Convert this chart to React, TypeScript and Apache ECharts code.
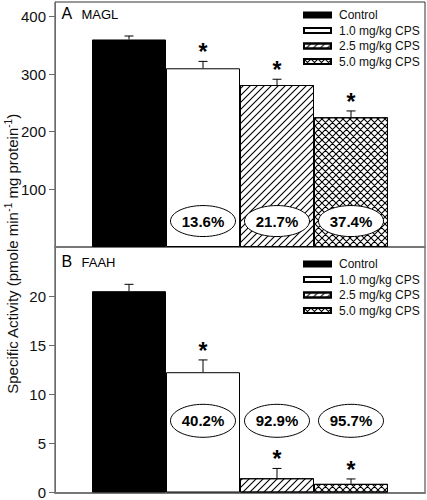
import React, { useEffect, useRef } from 'react';
import * as echarts from 'echarts';

// ---- data ----
const slots = ['', 'Control', '1.0 mg/kg CPS', '2.5 mg/kg CPS', '5.0 mg/kg CPS', ''];
const groups = ['Control', '1.0 mg/kg CPS', '2.5 mg/kg CPS', '5.0 mg/kg CPS'];
const maglValues = [360, 310, 281, 225];
const maglErrors = [6, 12, 10, 11];
const faahValues = [20.5, 12.25, 1.45, 0.88];
const faahErrors = [0.7, 1.25, 1.0, 0.5];
const significant = [false, true, true, true];
const maglInhibition = ['', '13.6%', '21.7%', '37.4%'];
const faahInhibition = ['', '40.2%', '92.9%', '95.7%'];
const maglInhibitionLevel = 45;
const faahInhibitionLevel = 7.3;
const maglTicks = [100, 200, 300, 400];
const faahTicks = [0, 5, 10, 15, 20];
const maglMax = 425;
const faahMax = 25;

const FONT = 'Liberation Sans, Arial, Helvetica, sans-serif';

const hatchPath =
  'path://M0,8.9L8.9,0L10,0L10,1.1L1.1,10L0,10ZM0,0L1.1,0L0,1.1ZM10,8.9L10,10L8.9,10Z';
const crossPath =
  hatchPath +
  'M0,0L1.1,0L10,8.9L10,10L8.9,10L0,1.1ZM8.9,0L10,0L10,1.1ZM0,8.9L1.1,10L0,10Z';

const makeDecal = (symbol: string) => ({
  symbol,
  symbolSize: 1,
  symbolKeepAspect: false,
  dashArrayX: [7, 0],
  dashArrayY: [7, 0],
  color: '#000',
  rotation: 0,
});

const groupStyles: any[] = [
  { color: '#000', borderColor: '#000', borderWidth: 1 },
  { color: '#fff', borderColor: '#000', borderWidth: 1 },
  { color: '#fff', borderColor: '#000', borderWidth: 1, decal: makeDecal(hatchPath) },
  { color: '#fff', borderColor: '#000', borderWidth: 1, decal: makeDecal(crossPath) },
];

function barSeries(gridIdx: number, values: number[]) {
  return groups.map((name, g) => ({
    type: 'bar',
    name,
    xAxisIndex: gridIdx,
    yAxisIndex: gridIdx,
    barWidth: '100%',
    barGap: '-100%',
    itemStyle: groupStyles[g],
    emphasis: { disabled: true },
    data: slots.map((_, i) => (i === g + 1 ? values[g] : '-')),
    z: 2,
  }));
}

function errorSeries(gridIdx: number, values: number[], errors: number[]) {
  return {
    type: 'custom',
    xAxisIndex: gridIdx,
    yAxisIndex: gridIdx,
    silent: true,
    z: 5,
    data: values.map((v, i) => [i + 1, v, errors[i], significant[i] ? 1 : 0]),
    renderItem: (params: any, api: any) => {
      const x = api.value(0);
      const v = api.value(1);
      const e = api.value(2);
      const base = api.coord([x, v]);
      const top = api.coord([x, v + e]);
      const children: any[] = [
        {
          type: 'line',
          shape: { x1: base[0], y1: base[1], x2: top[0], y2: top[1] },
          style: { stroke: '#000', lineWidth: 1 },
        },
        {
          type: 'line',
          shape: { x1: top[0] - 4.5, y1: top[1], x2: top[0] + 4.5, y2: top[1] },
          style: { stroke: '#000', lineWidth: 1 },
        },
      ];
      if (api.value(3)) {
        children.push({
          type: 'text',
          x: top[0],
          y: top[1] - 9,
          style: {
            text: '*',
            fontSize: 23,
            fontWeight: 'bold',
            fontFamily: FONT,
            fill: '#000',
            align: 'center',
            verticalAlign: 'middle',
          },
        });
      }
      return { type: 'group', children };
    },
  };
}

function inhibitionSeries(gridIdx: number, labels: string[], level: number, ry: number) {
  const items = labels
    .map((t, i) => ({ t, i }))
    .filter((d) => d.t !== '');
  return {
    type: 'custom',
    xAxisIndex: gridIdx,
    yAxisIndex: gridIdx,
    silent: true,
    z: 6,
    data: items.map((d) => [d.i + 1, level]),
    renderItem: (params: any, api: any) => {
      const c = api.coord([api.value(0), api.value(1)]);
      const label = items[params.dataIndex].t;
      return {
        type: 'group',
        children: [
          {
            type: 'ellipse',
            shape: { cx: c[0], cy: c[1], rx: 32.5, ry },
            style: { fill: '#fff', stroke: '#000', lineWidth: 1 },
          },
          {
            type: 'text',
            x: c[0],
            y: c[1],
            style: {
              text: label,
              fontSize: 15,
              fontWeight: 'bold',
              fontFamily: FONT,
              fill: '#000',
              align: 'center',
              verticalAlign: 'middle',
            },
          },
        ],
      };
    },
  };
}

function makeYAxis(gridIdx: number, max: number, ticks: number[]) {
  return {
    type: 'value',
    gridIndex: gridIdx,
    min: 0,
    max,
    axisLine: { show: true, lineStyle: { color: '#6a6a6a', width: 1 } },
    axisTick: {
      show: true,
      inside: false,
      length: 6,
      customValues: ticks,
      lineStyle: { color: '#6a6a6a' },
    },
    axisLabel: {
      customValues: ticks,
      fontSize: 15,
      fontFamily: FONT,
      color: '#111',
      margin: 9,
    },
    splitLine: { show: false },
  };
}

function makeXAxis(gridIdx: number) {
  return {
    type: 'category',
    gridIndex: gridIdx,
    data: slots,
    boundaryGap: false,
    axisLine: { show: true, onZero: false, lineStyle: { color: '#777', width: 2 } },
    axisTick: { show: false },
    axisLabel: { show: false },
    splitLine: { show: false },
  };
}

function makeLegend(top: number) {
  return {
    data: groups,
    orient: 'vertical',
    left: 303,
    top,
    padding: 0,
    itemGap: 1.5,
    itemWidth: 27,
    itemHeight: 5,
    icon: 'rect',
    selectedMode: false,
    textStyle: {
      fontSize: 12,
      fontFamily: FONT,
      color: '#111',
      lineHeight: 14,
      padding: [0, 0, 0, 3],
    },
  };
}

export default function App() {
  const ref = useRef<HTMLDivElement>(null);

  useEffect(() => {
    if (!ref.current) return;
    const chart = echarts.init(ref.current, undefined, { renderer: 'svg' });
    const superText =
      '{n|Specific Activity (pmole min}{s|-1}{n| mg protein}{s|-1}{n|)}';
    chart.setOption({
      animation: false,
      backgroundColor: '#fff',
      grid: [
        { left: 55, top: 2, width: 370, height: 245, show: true, borderColor: '#333', borderWidth: 1, backgroundColor: 'transparent' },
        { left: 55, top: 247, width: 370, height: 247, show: true, borderColor: '#333', borderWidth: 1, backgroundColor: 'transparent' },
      ],
      xAxis: [makeXAxis(0), makeXAxis(1)],
      yAxis: [makeYAxis(0, maglMax, maglTicks), makeYAxis(1, faahMax, faahTicks)],
      legend: [makeLegend(8), makeLegend(257)],
      series: [
        ...barSeries(0, maglValues),
        ...barSeries(1, faahValues),
        errorSeries(0, maglValues, maglErrors),
        errorSeries(1, faahValues, faahErrors),
        inhibitionSeries(0, maglInhibition, maglInhibitionLevel, 15.5),
        inhibitionSeries(1, faahInhibition, faahInhibitionLevel, 16.5),
      ],
      graphic: [
        {
          type: 'text',
          x: 12,
          y: 254,
          rotation: Math.PI / 2,
          style: {
            text: superText,
            align: 'center',
            verticalAlign: 'middle',
            rich: {
              n: { fontSize: 15, fontFamily: FONT, fill: '#111', lineHeight: 18 },
              s: { fontSize: 10, fontFamily: FONT, fill: '#111', lineHeight: 10, verticalAlign: 'top' },
            },
          },
        },
        { type: 'text', x: 61.5, y: 13.7, style: { text: 'A', fontSize: 16, fontFamily: FONT, fill: '#000', verticalAlign: 'middle' } },
        { type: 'text', x: 81.5, y: 14.8, style: { text: 'MAGL', fontSize: 13, fontFamily: FONT, fill: '#000', verticalAlign: 'middle' } },
        { type: 'text', x: 61.5, y: 261, style: { text: 'B', fontSize: 16, fontFamily: FONT, fill: '#000', verticalAlign: 'middle' } },
        { type: 'text', x: 81.5, y: 262, style: { text: 'FAAH', fontSize: 13, fontFamily: FONT, fill: '#000', verticalAlign: 'middle' } },
      ],
    });
    return () => chart.dispose();
  }, []);

  return (
    <div
      ref={ref}
      style={{ position: 'fixed', left: 0, top: 0, width: 427, height: 500, background: '#fff' }}
    />
  );
}
